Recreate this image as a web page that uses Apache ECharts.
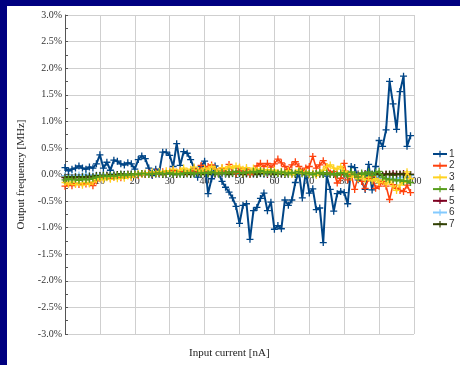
<!DOCTYPE html>
<html>
<head>
<meta charset="utf-8">
<script src="https://cdn.jsdelivr.net/npm/echarts@6/dist/echarts.min.js"></script>
<style>
html,body{margin:0;padding:0;background:#000080;width:460px;height:365px;overflow:hidden;}
#panel{position:absolute;left:7px;top:6px;width:453px;height:359px;background:#ffffff;}
#chart{width:453px;height:359px;}
</style>
</head>
<body>
<div id="panel"><div id="chart"></div></div>
<script>
// Input current [nA]
const current = [0,1,2,3,4,5,6,7,8,9,10,11,12,13,14,15,16,17,18,19,20,21,22,23,24,25,26,27,28,29,30,31,32,33,34,35,36,37,38,39,40,41,42,43,44,45,46,47,48,49,50,51,52,53,54,55,56,57,58,59,60,61,62,63,64,65,66,67,68,69,70,71,72,73,74,75,76,77,78,79,80,81,82,83,84,85,86,87,88,89,90,91,92,93,94,95,96,97,98,99];
const seriesNames = ['1','2','3','4','5','6','7'];
const xTicks = [0,10,20,30,40,50,60,70,80,90,100];
const yTicks = [-3.0,-2.5,-2.0,-1.5,-1.0,-0.5,0.0,0.5,1.0,1.5,2.0,2.5,3.0];

// Output frequency deviation [%]
const s1 = [0.13,0.07,0.10,0.12,0.16,0.12,0.10,0.14,0.12,0.20,
0.37,0.12,0.23,0.08,0.27,0.25,0.20,0.18,0.22,0.20,
0.10,0.28,0.35,0.30,0.12,-0.02,0.10,0.05,0.42,0.42,
0.36,0.15,0.58,0.17,0.43,0.40,0.28,0.12,-0.05,0.15,
0.25,-0.36,-0.08,0.16,0.02,-0.13,-0.24,-0.33,-0.44,-0.60,
-0.92,-0.58,-0.55,-1.22,-0.68,-0.62,-0.45,-0.35,-0.68,-0.52,
-1.03,-0.96,-1.02,-0.48,-0.58,-0.48,-0.15,0.06,-0.44,0.05,
-0.35,-0.27,-0.66,-0.63,-1.28,-0.03,-0.28,-0.69,-0.36,-0.32,
-0.34,-0.55,0.15,0.13,-0.10,-0.13,-0.28,0.19,-0.29,0.15,
0.64,0.53,0.84,1.75,1.33,0.85,1.56,1.85,0.53,0.73];

const s2 = [-0.22,-0.18,-0.21,-0.17,-0.19,-0.17,-0.18,-0.16,-0.21,-0.12,
-0.07,-0.06,-0.04,-0.07,-0.05,-0.03,-0.06,-0.04,-0.02,-0.05,
0.00,-0.02,0.02,0.00,0.03,0.01,0.04,0.02,0.05,0.03,
0.06,0.08,0.04,0.07,0.05,0.02,0.06,0.10,0.04,0.17,
0.05,0.15,0.18,0.10,0.02,0.12,0.05,0.19,0.05,0.02,
0.12,0.02,0.10,0.00,0.05,0.16,0.21,0.15,0.21,0.14,
0.20,0.29,0.22,0.15,0.09,0.18,0.24,0.15,0.06,0.12,
0.15,0.34,0.12,0.18,0.26,0.15,0.03,0.06,-0.16,-0.07,
0.21,-0.10,0.00,-0.28,-0.04,-0.13,-0.26,-0.07,-0.04,-0.26,
-0.22,-0.13,-0.22,-0.47,-0.19,-0.26,-0.30,-0.32,-0.20,-0.34];

const s3 = [-0.15,-0.18,-0.14,-0.19,-0.16,-0.20,-0.15,-0.18,-0.14,-0.10,
-0.08,-0.10,-0.06,-0.09,-0.05,-0.08,-0.04,-0.07,-0.03,-0.05,
-0.01,0.02,0.00,0.03,0.01,0.05,0.02,0.06,0.03,0.07,
0.05,0.10,0.04,0.08,0.12,0.06,0.10,0.14,0.08,0.05,
0.12,0.08,0.15,0.10,0.05,0.13,0.09,0.15,0.12,0.16,
0.14,0.10,0.13,0.06,0.12,0.08,0.10,0.04,0.09,0.05,
0.08,0.03,0.06,0.02,0.07,0.00,0.04,0.08,0.02,0.05,
0.00,0.03,-0.02,0.04,0.08,0.15,0.18,0.12,0.10,0.15,
0.06,0.02,-0.05,0.00,-0.08,-0.02,-0.10,-0.05,-0.12,-0.08,
-0.15,-0.10,-0.18,-0.12,-0.22,-0.30,-0.20,-0.15,0.05,-0.08];

const s4 = [-0.10,-0.08,-0.10,-0.09,-0.11,-0.08,-0.10,-0.09,-0.07,-0.05,
-0.04,-0.03,-0.04,-0.02,-0.03,-0.02,-0.01,-0.02,0.00,-0.01,
0.01,0.00,0.02,0.01,0.00,0.02,0.01,0.03,0.01,0.02,
0.03,0.01,0.02,0.00,0.03,0.02,0.04,0.01,0.03,0.02,
0.04,0.02,0.05,0.03,0.01,0.04,0.02,0.05,0.03,0.06,
0.04,0.02,0.05,0.03,0.06,0.04,0.07,0.05,0.03,0.06,
0.04,0.02,0.05,0.03,0.01,0.04,0.02,0.05,0.03,0.01,
0.03,0.00,0.02,0.04,0.01,0.03,0.00,0.02,-0.01,0.03,
0.02,-0.03,0.05,0.00,-0.05,0.03,0.00,0.05,-0.02,0.04,
0.06,-0.05,-0.08,-0.10,-0.09,-0.12,-0.10,-0.13,-0.12,-0.15];

const s5 = [-0.06,-0.05,-0.07,-0.05,-0.06,-0.04,-0.06,-0.05,-0.04,-0.03,
-0.02,-0.03,-0.01,-0.02,-0.01,0.00,-0.01,0.00,0.01,0.00,
0.00,0.01,0.00,0.02,0.01,0.00,0.01,0.02,0.00,0.01,
0.02,0.01,0.00,0.02,0.01,0.03,0.01,0.02,0.00,0.02,
0.01,0.03,0.02,0.00,0.02,0.01,0.03,0.02,0.04,0.02,
0.03,0.01,0.02,0.00,0.02,0.01,0.03,0.02,0.00,0.02,
0.01,0.03,0.01,0.02,0.00,0.02,0.01,0.03,0.02,0.00,
0.01,0.02,0.00,0.01,0.03,0.01,0.00,0.02,0.01,0.00,
0.01,0.02,0.00,-0.01,0.01,0.00,0.02,0.00,-0.01,0.01,
0.00,-0.02,0.01,0.00,0.02,0.01,0.00,0.02,0.01,0.00];

const s6 = [-0.02,-0.03,-0.02,-0.03,-0.01,-0.02,0.00,-0.01,-0.02,-0.01,
-0.01,0.00,-0.01,0.00,0.01,0.00,0.00,0.01,0.00,0.01,
0.00,0.01,0.00,0.01,0.02,0.00,0.01,0.00,0.02,0.01,
0.01,0.00,0.02,0.01,0.00,0.01,0.02,0.00,0.01,0.02,
0.01,0.00,0.02,0.01,0.03,0.01,0.00,0.02,0.01,0.02,
0.00,0.01,0.02,0.01,0.00,0.02,0.01,0.00,0.02,0.01,
0.00,0.01,0.02,0.00,0.01,0.02,0.00,0.01,0.00,0.02,
0.01,0.00,0.01,0.02,0.00,0.01,0.00,0.02,0.01,0.00,
0.01,0.00,-0.01,0.01,0.00,-0.01,0.00,-0.02,0.00,-0.02,
-0.04,-0.06,-0.08,-0.07,-0.09,-0.08,-0.06,-0.05,-0.03,-0.02];

const s7 = [-0.05,-0.04,-0.06,-0.04,-0.05,-0.04,-0.05,-0.03,-0.04,-0.02,
-0.02,-0.01,-0.02,0.00,-0.01,0.00,0.01,0.00,0.00,0.01,
0.00,0.01,0.02,0.00,0.01,0.00,0.02,0.01,0.00,0.01,
0.02,0.00,0.01,0.02,0.00,0.01,0.00,0.02,0.01,0.00,
0.02,0.01,0.00,0.02,0.01,0.03,0.01,0.00,0.02,0.01,
0.02,0.00,0.01,0.02,0.01,0.00,0.02,0.01,0.03,0.01,
0.00,0.02,0.01,0.00,0.02,0.01,0.00,0.01,0.02,0.00,
0.01,0.00,0.02,0.01,0.00,0.01,0.02,0.00,0.01,0.00,
0.01,0.00,0.02,0.00,-0.01,0.01,0.00,-0.01,0.01,0.00,
0.01,-0.01,0.00,0.01,-0.01,0.00,0.01,0.00,-0.01,0.00];

const seriesValues = [s1,s2,s3,s4,s5,s6,s7];
const colors = ['#004586','#ff420e','#ffd320','#579d1c','#7e0021','#83caff','#314004'];

const plus = 'path://M0,3.25H8V4.75H0Z M3.25,0H4.75V8H3.25Z';
const serifFont = "'Liberation Serif', 'Times New Roman', serif";

const chart = echarts.init(document.getElementById('chart'), null, {renderer:'canvas'});
chart.setOption({
  animation:false,
  backgroundColor:'#ffffff',
  color:colors,
  textStyle:{fontFamily:serifFont},
  grid:{left:58,top:9,right:46,bottom:31,containLabel:false},
  legend:{
    orient:'vertical',left:425,top:143,padding:0,
    itemWidth:14,itemHeight:8,itemGap:1.7,
    textStyle:{fontFamily:"'Liberation Sans', Arial, sans-serif",fontSize:10,color:'#333',padding:[0,0,0,-3]},
    data:seriesNames
  },
  xAxis:[{
    type:'value',min:xTicks[0],max:xTicks[xTicks.length-1],interval:10,
    position:'bottom',offset:-159.5,
    axisLine:{onZero:false,lineStyle:{color:'#b3b3b3',width:1}},
    axisTick:{show:false},
    axisLabel:{fontFamily:serifFont,fontSize:10,color:'#333',margin:2},
    splitLine:{show:true,lineStyle:{color:'#cfcfcf',width:1}}
  }],
  yAxis:{
    type:'value',min:yTicks[0],max:yTicks[yTicks.length-1],interval:0.5,
    name:'Output frequency [MHz]',nameLocation:'middle',nameGap:38,nameRotate:90,
    nameTextStyle:{fontFamily:serifFont,fontSize:11,color:'#222'},
    axisLine:{show:true,lineStyle:{color:'#555',width:1}},
    axisTick:{show:true,inside:true,length:3,lineStyle:{color:'#555'}},
    minorTick:{show:true,splitNumber:2,length:3,lineStyle:{color:'#555'}},
    axisLabel:{fontFamily:serifFont,fontSize:10,color:'#333',margin:3,
      formatter:function(v){return v.toFixed(1)+'%';}},
    splitLine:{show:true,lineStyle:{color:'#cfcfcf',width:1}}
  },
  graphic:[{type:'text',left:182,top:342,
    style:{text:'Input current [nA]',fontFamily:serifFont,fontSize:11,fill:'#222'}}],
  series:seriesValues.map(function(vals,i){
    return {
      name:seriesNames[i],type:'line',
      z:(i>=4?1:2),
      data:current.map(function(x,j){return [x,vals[j]];}),
      symbol:plus,symbolSize:7,showSymbol:true,
      lineStyle:{width:(i===0?2:1.6),color:colors[i]},
      itemStyle:{color:colors[i]},
      emphasis:{disabled:true}
    };
  })
});
</script>
</body>
</html>
